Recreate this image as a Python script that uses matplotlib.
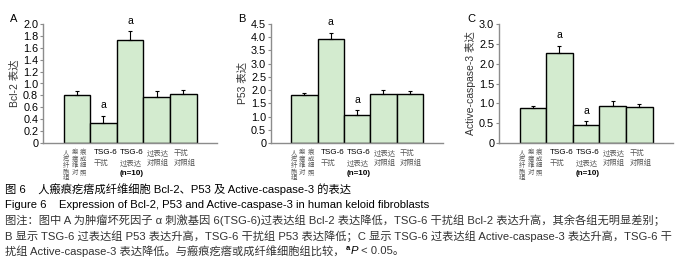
import numpy as np
import matplotlib
matplotlib.use('Agg')
import matplotlib.pyplot as plt
import matplotlib.transforms as mtransforms

plt.rcParams['font.family'] = ['Liberation Sans', 'Noto Sans CJK SC', 'DejaVu Sans']

# 数据
groups = ['人瘢痕疙瘩成纤维细胞对照组', 'TSG-6 干扰', 'TSG-6 过表达 (n=10)', '过表达对照组', '干扰对照组']
bcl2 = [0.80, 0.33, 1.73, 0.78, 0.83]
bcl2_err = [0.07, 0.13, 0.15, 0.09, 0.06]
bcl2_sig = [False, True, True, False, False]
p53 = [1.80, 3.92, 1.05, 1.87, 1.85]
p53_err = [0.08, 0.25, 0.18, 0.15, 0.12]
p53_sig = [False, True, True, False, False]
casp3 = [0.88, 2.26, 0.45, 0.93, 0.90]
casp3_err = [0.06, 0.19, 0.10, 0.14, 0.08]
casp3_sig = [False, True, True, False, False]

panels = [
    ('A', 'Bcl-2 表达', bcl2, bcl2_err, bcl2_sig, 2.0, 0.2),
    ('B', 'P53 表达', p53, p53_err, p53_sig, 4.5, 0.5),
    ('C', 'Active-caspase-3 表达', casp3, casp3_err, casp3_sig, 3.0, 0.5),
]

first_rows = ['人瘢痕', '疙瘩成', '纤维细', '胞对照', '组']

W, H = 691, 274
fig = plt.figure(figsize=(W / 100, H / 100), dpi=100)

ax_px = [(43, 217), (271, 443), (499, 673)]
letter_px = [(10, 19), (238, 19), (467, 19)]
ylab_px = [14, 242, 470]
top_y, bot_y = 24, 143
ax_h = bot_y - top_y

bar_color = '#d3ebcf'
axis_gray = '#8c8c8c'
cjk_gray = '#555555'
cjk = ['Noto Sans CJK SC']


def below(px):
    # 轴下方 px 像素处（axes 坐标）
    return -px / ax_h


for k, (letter, ylabel, vals, errs, sig, ymax, step) in enumerate(panels):
    x0, x1 = ax_px[k]
    ax = fig.add_axes([x0 / W, 1 - bot_y / H, (x1 - x0) / W, ax_h / H])
    x = np.arange(len(vals))
    ax.bar(x, vals, width=1.0, color=bar_color, edgecolor='black', linewidth=1.0, zorder=2)
    ax.errorbar(x, vals, yerr=[np.zeros(len(errs)), errs], fmt='none', ecolor='black',
                elinewidth=0.8, capsize=1.5, capthick=0.8, zorder=3)
    ax.set_xlim(-1.27, 5.26)
    ax.set_ylim(0, ymax)
    ticks = np.arange(0, ymax + step / 2, step)
    ax.set_yticks(ticks)
    ax.set_yticklabels(['0'] + ['{:.1f}'.format(t) for t in ticks[1:]], fontsize=7.8)
    ax.set_xticks([])
    for s in ['top', 'right']:
        ax.spines[s].set_visible(False)
    for s in ['left', 'bottom']:
        ax.spines[s].set_color(axis_gray)
        ax.spines[s].set_linewidth(1.0)
    ax.tick_params(axis='y', direction='out', length=2, width=0.8, color=axis_gray, pad=1.5)

    for i in range(len(vals)):
        if sig[i]:
            ax.annotate('a', (x[i], vals[i] + errs[i]), xytext=(0, 4), textcoords='offset points',
                        ha='center', va='bottom', fontsize=7.5)

    # x 轴类别标签：第一组竖排三列
    trans = mtransforms.blended_transform_factory(ax.transData, ax.transAxes)
    col_off = [-0.40, -0.08, 0.24]
    for r, row in enumerate(first_rows):
        for c, ch in enumerate(row):
            ax.text(col_off[c], below(5 + r * 6.6), ch, transform=trans, ha='center', va='top',
                    fontsize=4.6, color=cjk_gray, family=cjk)
    ax.text(0.62, below(6), 'TSG-6', transform=trans, ha='left', va='top', fontsize=5.8)
    ax.text(0.62, below(16), '干扰', transform=trans, ha='left', va='top', fontsize=5.3,
            color=cjk_gray, family=cjk)
    ax.text(1.62, below(6), 'TSG-6', transform=trans, ha='left', va='top', fontsize=5.8)
    ax.text(1.62, below(16), '过表达', transform=trans, ha='left', va='top', fontsize=5.3,
            color=cjk_gray, family=cjk)
    ax.text(1.62, below(27), '(n=10)', transform=trans, ha='left', va='top', fontsize=5.8,
            fontweight='bold')
    for xx, (l1, l2) in [(2.62, ('过表达', '对照组')), (3.62, ('干扰', '对照组'))]:
        ax.text(xx, below(6), l1, transform=trans, ha='left', va='top', fontsize=5.3,
                color=cjk_gray, family=cjk)
        ax.text(xx, below(16), l2, transform=trans, ha='left', va='top', fontsize=5.3,
                color=cjk_gray, family=cjk)

    fig.text(letter_px[k][0] / W, 1 - letter_px[k][1] / H, letter, fontsize=8, ha='left', va='center')
    fig.text(ylab_px[k] / W, 1 - (top_y + bot_y) / 2 / H, ylabel, rotation=90, fontsize=7.5,
             ha='center', va='center', color='#333333')

# 图注
cap_fs = 8.1
rows_y = [189, 205, 220, 236, 251]
fig.text(5 / W, 1 - rows_y[0] / H, '图 6    人瘢痕疙瘩成纤维细胞 Bcl-2、P53 及 Active-caspase-3 的表达',
         fontsize=cap_fs, ha='left', va='center')
fig.text(5 / W, 1 - rows_y[1] / H,
         'Figure 6    Expression of Bcl-2, P53 and Active-caspase-3 in human keloid fibroblasts',
         fontsize=cap_fs, ha='left', va='center')
fig.text(5 / W, 1 - rows_y[2] / H,
         '图注：图中 A 为肿瘤坏死因子 α 刺激基因 6(TSG-6)过表达组 Bcl-2 表达降低，TSG-6 干扰组 Bcl-2 表达升高，其余各组无明显差别；',
         fontsize=cap_fs, ha='left', va='center', color='#333333')
fig.text(5 / W, 1 - rows_y[3] / H,
         'B 显示 TSG-6 过表达组 P53 表达升高，TSG-6 干扰组 P53 表达降低；C 显示 TSG-6 过表达组 Active-caspase-3 表达升高，TSG-6 干',
         fontsize=cap_fs, ha='left', va='center', color='#333333')

# 最后一行分段绘制（上标 a 和斜体 P）
renderer = fig.canvas.get_renderer()
xpos = 5
t = fig.text(xpos / W, 1 - rows_y[4] / H, '扰组 Active-caspase-3 表达降低。与瘢痕疙瘩或成纤维细胞组比较，',
             fontsize=cap_fs, ha='left', va='center', color='#333333')
xpos = t.get_window_extent(renderer).x1 + 1
t = fig.text(xpos / W, 1 - (rows_y[4] - 3) / H, 'a', fontsize=5.5, ha='left', va='center',
             fontweight='bold')
xpos = t.get_window_extent(renderer).x1 + 0.5
t = fig.text(xpos / W, 1 - rows_y[4] / H, 'P', fontsize=cap_fs, ha='left', va='center',
             style='italic')
xpos = t.get_window_extent(renderer).x1
fig.text(xpos / W, 1 - rows_y[4] / H, ' < 0.05。', fontsize=cap_fs, ha='left', va='center',
         color='#333333')

fig.savefig('out.png', dpi=100)
